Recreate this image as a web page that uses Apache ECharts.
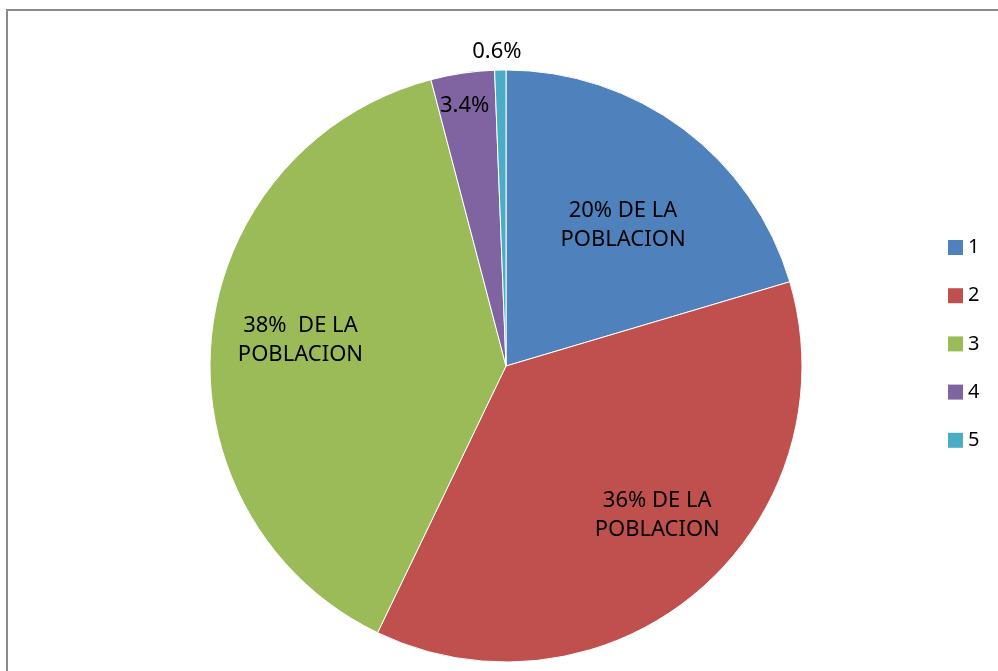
<!DOCTYPE html>
<html>
<head>
<meta charset="utf-8">
<script src="https://cdn.jsdelivr.net/npm/echarts@6/dist/echarts.min.js"></script>
<style>
html,body{margin:0;padding:0;background:#fff;}
#chart{width:998px;height:671px;}
</style>
</head>
<body>
<div id="chart"></div>
<script>
const categories = ['1', '2', '3', '4', '5'];
const values = [20, 36, 38, 3.4, 0.6];
const labelTexts = ['20% DE LA\nPOBLACION', '36% DE LA\nPOBLACION', '38%  DE LA\nPOBLACION', '3.4%', '0.6%'];
const colors = ['#4F81BD', '#C0504D', '#9BBB59', '#8064A2', '#4BACC6'];

const CENTER = [506, 366];
const R = 296;
const LABEL_FONT = { color: '#000', fontFamily: 'Noto Sans', fontSize: 22, lineHeight: 29 };

// nudge: [dx, dy] fine shift of a label from its slice-anchored spot
function makeLabel(i, nudge) {
  const dx = nudge[0], dy = nudge[1];
  let text = labelTexts[i];
  const rich = {};
  if (dy > 0) {
    rich.sp = { height: 2 * dy, lineHeight: 2 * dy, fontSize: 1 };
    text = '{sp| }\n' + text;
  } else if (dy < 0) {
    rich.sp = { height: -2 * dy, lineHeight: -2 * dy, fontSize: 1 };
    text = text + '\n{sp| }';
  }
  return Object.assign({
    show: true,
    position: 'inside',
    formatter: text,
    rich: rich,
    padding: [0, dx < 0 ? -2 * dx : 0, 0, dx > 0 ? 2 * dx : 0]
  }, LABEL_FONT);
}

function labelSeries(innerR, outerR, items) {
  return {
    type: 'pie',
    center: CENTER,
    radius: [innerR, outerR],
    startAngle: 90,
    clockwise: true,
    silent: true,
    animation: false,
    emphasis: { disabled: true },
    labelLine: { show: false },
    itemStyle: { color: 'rgba(0,0,0,0)', borderWidth: 0 },
    data: categories.map((c, i) => ({
      name: c,
      value: values[i],
      itemStyle: { color: 'rgba(0,0,0,0)' },
      label: items.hasOwnProperty(i) ? makeLabel(i, items[i]) : { show: false }
    }))
  };
}

const chart = echarts.init(document.getElementById('chart'));
chart.setOption({
  backgroundColor: '#fff',
  animation: false,
  graphic: [{
    type: 'rect',
    shape: { x: 7, y: 10, width: 1200, height: 1000 },
    style: { fill: 'none', stroke: '#8a8a8a', lineWidth: 2 },
    silent: true,
    z: 100
  }],
  legend: {
    orient: 'vertical',
    left: 943,
    top: 232.5,
    itemWidth: 15,
    itemHeight: 15,
    itemGap: 28.2,
    icon: 'rect',
    itemStyle: { borderWidth: 0 },
    data: categories,
    textStyle: { color: '#000', fontFamily: 'Noto Sans', fontSize: 20, lineHeight: 20 }
  },
  series: [
    {
      type: 'pie',
      center: CENTER,
      radius: R,
      startAngle: 90,
      clockwise: true,
      label: { show: false },
      labelLine: { show: false },
      emphasis: { scale: false },
      itemStyle: { borderColor: '#fff', borderWidth: 1 },
      data: categories.map((c, i) => ({ name: c, value: values[i], itemStyle: { color: colors[i] } }))
    },
    labelSeries(181, 221, { 0: [-5, 22.5], 1: [19, -6.5], 2: [-2.5, -6.5] }),
    labelSeries(255, 275, { 3: [-2, 5] }),
    labelSeries(306, 326, { 4: [-3, 5] })
  ]
});
</script>
</body>
</html>
